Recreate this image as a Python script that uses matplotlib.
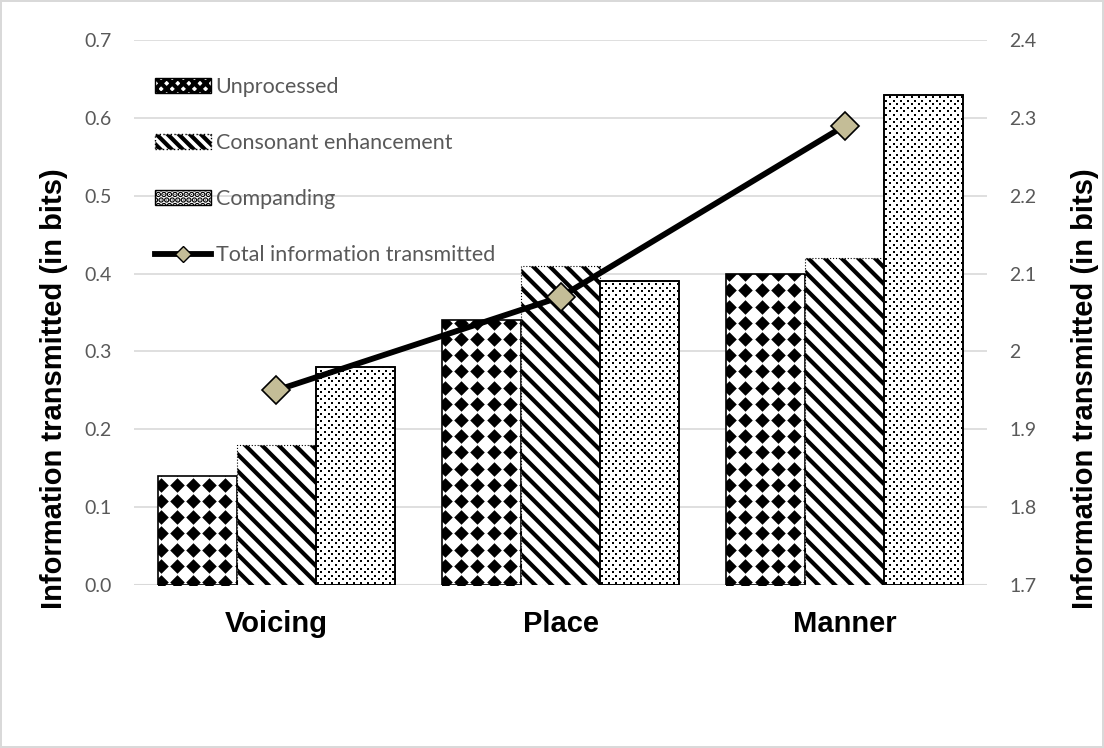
import numpy as np
import matplotlib
matplotlib.use("Agg")
import matplotlib.pyplot as plt
from matplotlib.patches import Patch
from matplotlib.lines import Line2D

categories = ["Voicing", "Place", "Manner"]
unprocessed = [0.14, 0.34, 0.40]
consonant = [0.18, 0.41, 0.42]
companding = [0.28, 0.39, 0.63]
total_info = [1.95, 2.07, 2.29]

series_names = ["Unprocessed", "Consonant enhancement", "Companding",
                "Total information transmitted"]
axis_title = "Information transmitted (in bits)"

plt.rcParams['font.family'] = ['Lato', 'DejaVu Sans']
plt.rcParams['hatch.linewidth'] = 3.0
grey = "#595959"

fig = plt.figure(figsize=(11.04, 7.48), dpi=100)
fig.patch.set_edgecolor("#d9d9d9")
fig.patch.set_linewidth(1.5)
ax = fig.add_axes([0.1214, 0.2179, 0.7726, 0.7286])
ax2 = ax.twinx()

x = np.arange(len(categories))
w = 0.278

# bars
b1 = ax.bar(x - w, unprocessed, w, facecolor="white", edgecolor="black", linewidth=1.2, zorder=2)
b2 = ax.bar(x, consonant, w, facecolor="white", edgecolor="black", hatch="\\\\",
            linewidth=0.8, linestyle=":", zorder=2)
b3 = ax.bar(x + w, companding, w, facecolor="white", edgecolor="black",
            linewidth=1.2, zorder=2)
b3f = ax.bar(x + w, companding, w, facecolor="none", edgecolor="black",
             linewidth=1.2, zorder=4)

ax.set_xlim(-0.5, 2.5)
ax.set_ylim(0, 0.7)
ax2.set_ylim(1.7, 2.4)

fig.canvas.draw()


def fill_pattern(p, step_x, step_y, offset, stagger, markers):
    # grid of small markers clipped to the bar (pattern fill)
    x0, y0 = ax.transData.transform((p.get_x(), 0))
    x1, y1 = ax.transData.transform((p.get_x() + p.get_width(), p.get_height()))
    ys = np.arange(y0 + offset, y1 + step_y, step_y)
    pts = []
    for i, yy in enumerate(ys):
        shift = stagger if i % 2 else 0
        for xx in np.arange(x0 + offset + shift, x1 + step_x, step_x):
            pts.append((xx, yy))
    pts = ax.transData.inverted().transform(np.array(pts))
    for m, s in markers:
        sc = ax.scatter(pts[:, 0], pts[:, 1], marker=m, s=s, color="black",
                        linewidths=0, zorder=3)
        sc.set_clip_path(p)


for p in b1:
    fill_pattern(p, 16.2, 16.2, 3, 0, [("D", 55), ("s", 22)])
for p in b3:
    fill_pattern(p, 7.2, 3.6, 2, 3.6, [("s", 2.6)])

# line on secondary axis
ax2.plot(x, total_info, color="black", linewidth=4.2, marker="D", markersize=14,
         markerfacecolor="#c4bd97", markeredgecolor="black", markeredgewidth=1.2, zorder=5)

ax.set_yticks(np.arange(0, 0.71, 0.1))
ax.set_yticklabels([f"{v:.1f}" for v in np.arange(0, 0.71, 0.1)])
ax2.set_yticks(np.arange(1.7, 2.41, 0.1))
ax2.set_yticklabels([f"{v:g}" for v in np.round(np.arange(1.7, 2.41, 0.1), 1)])
ax.set_xticks(x)
ax.set_xticklabels(categories, fontsize=21, fontweight="bold", family="Liberation Sans")

ax.yaxis.grid(True, color="#d9d9d9", linewidth=1.2, zorder=0)
ax.set_axisbelow(True)
for a in (ax, ax2):
    for s in ["top", "left", "right", "bottom"]:
        a.spines[s].set_visible(False)
    a.tick_params(length=0, labelsize=14, labelcolor=grey)
ax.tick_params(axis="y", pad=16)
ax2.tick_params(axis="y", pad=16)
ax.tick_params(axis="x", pad=18, labelsize=21, labelcolor="black")
ax.axhline(0, color="#d9d9d9", linewidth=1.5, zorder=1)

# axis titles (centred on the chart area like Excel does)
fig.text(54 / 1104, 1 - 389 / 748, axis_title, rotation=90, ha="center", va="center",
         fontsize=21, fontweight="bold", family="Liberation Sans")
fig.text(1085 / 1104, 1 - 389 / 748, axis_title, rotation=90, ha="center", va="center",
         fontsize=21, fontweight="bold", family="Liberation Sans")

handles = [
    Patch(facecolor="white", edgecolor="black", hatch="xxx"),
    Patch(facecolor="white", edgecolor="black", hatch="\\\\\\", linestyle=":"),
    Patch(facecolor="white", edgecolor="black", hatch="...", linewidth=1),
    Line2D([0], [0], color="black", linewidth=4.2, marker="D", markersize=8,
           markerfacecolor="#c4bd97", markeredgecolor="black"),
]
leg = ax2.legend(handles, series_names, loc="upper left", bbox_to_anchor=(0.015, 0.948),
                 frameon=False, fontsize=15.5, labelspacing=1.68, handlelength=2.6,
                 handleheight=0.7, handletextpad=0.2, borderaxespad=0)
for t in leg.get_texts():
    t.set_color(grey)

fig.savefig("out.png", dpi=100)
